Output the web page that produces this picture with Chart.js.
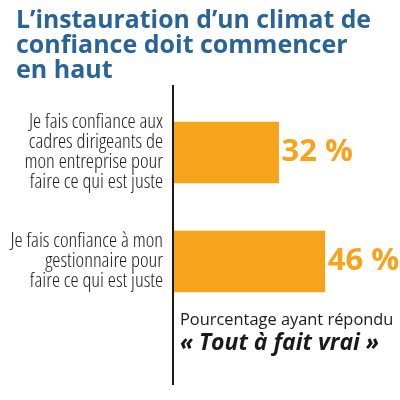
<!DOCTYPE html>
<html lang="fr">
<head>
<meta charset="UTF-8">
<title>Climat de confiance</title>
<script src="https://cdn.jsdelivr.net/npm/chart.js"></script>
<style>
  html, body { margin: 0; padding: 0; background: #fff; }
</style>
</head>
<body>
<canvas id="trustChart" width="400" height="400"></canvas>
<script>
  // données
  const categories = [
    ['Je fais confiance aux', 'cadres dirigeants de', 'mon entreprise pour', 'faire ce qui est juste'],
    ['Je fais confiance à mon', 'gestionnaire pour', 'faire ce qui est juste']
  ];
  const values = [32, 46];
  const valueLabels = ['32 %', '46 %'];
  const titleLines = ['L’instauration d’un climat de', 'confiance doit commencer', 'en haut'];
  const noteLines = ['Pourcentage ayant répondu', '« Tout à fait vrai »'];

  const BLUE = '#2a6496';
  const ORANGE = '#f7a41d';
  const INK = '#1a1a1a';

  // le titre commence à 16 px du bord, les libellés de l'axe peuvent aller plus à gauche
  const titleIndent = {
    id: 'titleIndent',
    afterLayout(chart) {
      if (chart.titleBlock) chart.titleBlock.left = 16;
    }
  };

  // ligne verticale de l'axe, un peu plus longue que la zone des barres
  const axisLine = {
    id: 'axisLine',
    afterDatasetsDraw(chart) {
      const { ctx, chartArea } = chart;
      ctx.save();
      ctx.strokeStyle = INK;
      ctx.lineWidth = 2;
      ctx.beginPath();
      ctx.moveTo(chartArea.left, chartArea.top - 13);
      ctx.lineTo(chartArea.left, chartArea.bottom + 69);
      ctx.stroke();
      ctx.restore();
    }
  };

  // pourcentages au bout des barres
  const barValues = {
    id: 'barValues',
    afterDatasetsDraw(chart) {
      const { ctx } = chart;
      const meta = chart.getDatasetMeta(0);
      ctx.save();
      ctx.fillStyle = ORANGE;
      ctx.font = 'bold 31px "Open Sans"';
      ctx.textAlign = 'left';
      ctx.textBaseline = 'middle';
      meta.data.forEach((bar, i) => {
        ctx.fillText(valueLabels[i], bar.x + 3, bar.y);
      });
      ctx.restore();
    }
  };

  // note sous les barres
  const note = {
    id: 'note',
    afterDraw(chart) {
      const { ctx, chartArea } = chart;
      const x = chartArea.left + 7;
      ctx.save();
      ctx.fillStyle = INK;
      ctx.textAlign = 'left';
      ctx.textBaseline = 'alphabetic';
      ctx.font = '16.4px "Open Sans"';
      ctx.fillText(noteLines[0], x, chartArea.bottom + 9);
      ctx.font = 'italic bold 23px "Open Sans"';
      ctx.fillText(noteLines[1], x, chartArea.bottom + 34);
      ctx.restore();
    }
  };

  new Chart(document.getElementById('trustChart'), {
    type: 'bar',
    data: {
      labels: categories,
      datasets: [{
        data: values,
        backgroundColor: ORANGE,
        borderWidth: 0,
        barThickness: 61
      }]
    },
    options: {
      indexAxis: 'y',
      responsive: false,
      animation: false,
      layout: { padding: { left: 0, right: 29, top: 0, bottom: 84 } },
      plugins: {
        legend: { display: false },
        tooltip: { enabled: false },
        title: {
          display: true,
          text: titleLines,
          align: 'start',
          color: BLUE,
          font: { family: '"Open Sans"', size: 25, weight: 'bold', lineHeight: 1 },
          padding: { top: 8, bottom: 15 }
        }
      },
      scales: {
        x: { display: false, min: 0, max: 60 },
        y: {
          grid: { display: false, drawTicks: false },
          border: { display: false },
          ticks: {
            color: INK,
            padding: 10,
            font: { family: '"Open Sans"', size: 20.5, weight: 'condensed 350', lineHeight: 0.975 }
          },
          afterFit(scale) { scale.width = 173; }
        }
      }
    },
    plugins: [titleIndent, axisLine, barValues, note]
  });
</script>
</body>
</html>
